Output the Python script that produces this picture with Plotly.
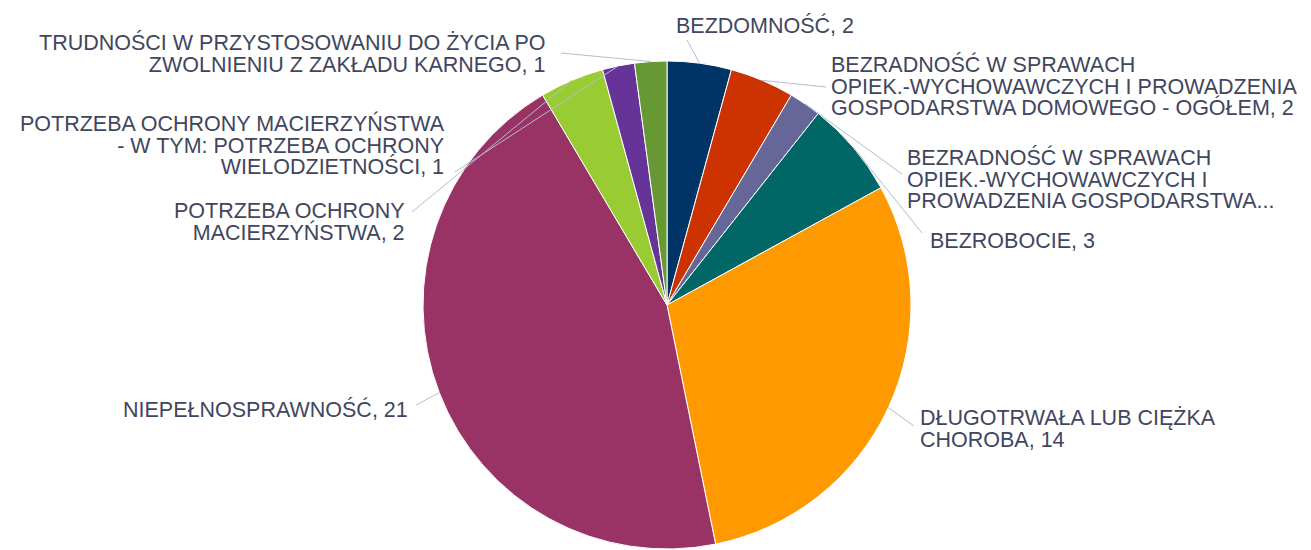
import math
import plotly.graph_objects as go

# ---- data ----
categories = [
    "BEZDOMNOŚĆ",
    "BEZRADNOŚĆ W SPRAWACH OPIEK.-WYCHOWAWCZYCH I PROWADZENIA GOSPODARSTWA DOMOWEGO - OGÓŁEM",
    "BEZRADNOŚĆ W SPRAWACH OPIEK.-WYCHOWAWCZYCH I PROWADZENIA GOSPODARSTWA DOMOWEGO - W TYM: RODZINY NIEPEŁNE",
    "BEZROBOCIE",
    "DŁUGOTRWAŁA LUB CIĘŻKA CHOROBA",
    "NIEPEŁNOSPRAWNOŚĆ",
    "POTRZEBA OCHRONY MACIERZYŃSTWA",
    "POTRZEBA OCHRONY MACIERZYŃSTWA - W TYM: POTRZEBA OCHRONY WIELODZIETNOŚCI",
    "TRUDNOŚCI W PRZYSTOSOWANIU DO ŻYCIA PO ZWOLNIENIU Z ZAKŁADU KARNEGO",
]
values = [2, 2, 1, 3, 14, 21, 2, 1, 1]
label_lines = [
    ["BEZDOMNOŚĆ, 2"],
    ["BEZRADNOŚĆ W SPRAWACH", "OPIEK.-WYCHOWAWCZYCH I PROWADZENIA", "GOSPODARSTWA DOMOWEGO - OGÓŁEM, 2"],
    ["BEZRADNOŚĆ W SPRAWACH", "OPIEK.-WYCHOWAWCZYCH I", "PROWADZENIA GOSPODARSTWA..."],
    ["BEZROBOCIE, 3"],
    ["DŁUGOTRWAŁA LUB CIĘŻKA", "CHOROBA, 14"],
    ["NIEPEŁNOSPRAWNOŚĆ, 21"],
    ["POTRZEBA OCHRONY", "MACIERZYŃSTWA, 2"],
    ["POTRZEBA OCHRONY MACIERZYŃSTWA", "- W TYM: POTRZEBA OCHRONY", "WIELODZIETNOŚCI, 1"],
    ["TRUDNOŚCI W PRZYSTOSOWANIU DO ŻYCIA PO", "ZWOLNIENIU Z ZAKŁADU KARNEGO, 1"],
]
colors = ["#003366", "#cc3300", "#666699", "#006666", "#ff9900",
          "#993366", "#99cc33", "#663399", "#669933"]

# ---- layout / style ----
OFF = 8                      # default page (body) margin of the html page
W, H = 1311 - OFF, 550 - OFF
CX, CY, R = 667, 305, 244    # page pixels
# label block anchor (page pixels): x, center y, side
label_pos = [
    (674, 25, "left"),
    (829, 86, "left"),
    (905, 179, "left"),
    (928, 241, "left"),
    (918, 429, "left"),
    (410, 410, "right"),
    (407, 222, "right"),
    (447, 145, "right"),
    (547, 54, "right"),
]
# connector end near label (page pixels)
conn_end = [
    (687, 40), (826, 87), (902, 174), (922, 233), (914, 426),
    (416, 405), (412, 212), (455, 172), (561, 53),
]
TEXT_SIZE = 21.5             # glyph size
LINE_H = 21.5                # line pitch
FONT = dict(family="Liberation Sans, Arial, sans-serif",
            size=LINE_H / 1.3, color="#41465e")
CONN_COLOR = "#b4bdd0"


def px2paper(x, y):
    return (x - OFF) / W, 1 - (y - OFF) / H


dx0, dy1 = px2paper(CX - R, CY - R)
dx1, dy0 = px2paper(CX + R, CY + R)

fig = go.Figure(go.Pie(
    labels=categories,
    values=values,
    sort=False,
    direction="clockwise",
    rotation=0,
    marker=dict(colors=colors, line=dict(color="#ffffff", width=1)),
    textinfo="none",
    hoverinfo="label+value",
    showlegend=False,
    domain=dict(x=[dx0, dx1], y=[max(dy0, 0), dy1]),
))

total = sum(values)
cum = 0
shapes = []
annotations = []
for i, v in enumerate(values):
    mid = (cum + v / 2) / total * 2 * math.pi
    cum += v
    ex = CX + R * math.sin(mid)
    ey = CY - R * math.cos(mid)
    x0, y0 = px2paper(ex, ey)
    x1, y1 = px2paper(*conn_end[i])
    shapes.append(dict(type="line", xref="paper", yref="paper",
                       x0=x0, y0=y0, x1=x1, y1=y1,
                       line=dict(color=CONN_COLOR, width=1)))
    lx, lcy, side = label_pos[i]
    text = "<br>".join(
        f"<span style='font-size:{TEXT_SIZE}px'>{t}</span>" for t in label_lines[i]
    )
    ax_, ay_ = px2paper(lx, lcy)
    annotations.append(dict(
        x=ax_, y=ay_, xref="paper", yref="paper", text=text,
        showarrow=False, xanchor=side, yanchor="middle",
        font=FONT, align=side,
    ))

fig.update_layout(
    width=W, height=H,
    margin=dict(l=0, r=0, t=0, b=0),
    paper_bgcolor="#ffffff",
    plot_bgcolor="#ffffff",
    shapes=shapes,
    annotations=annotations,
)
fig.write_html("out.html")
